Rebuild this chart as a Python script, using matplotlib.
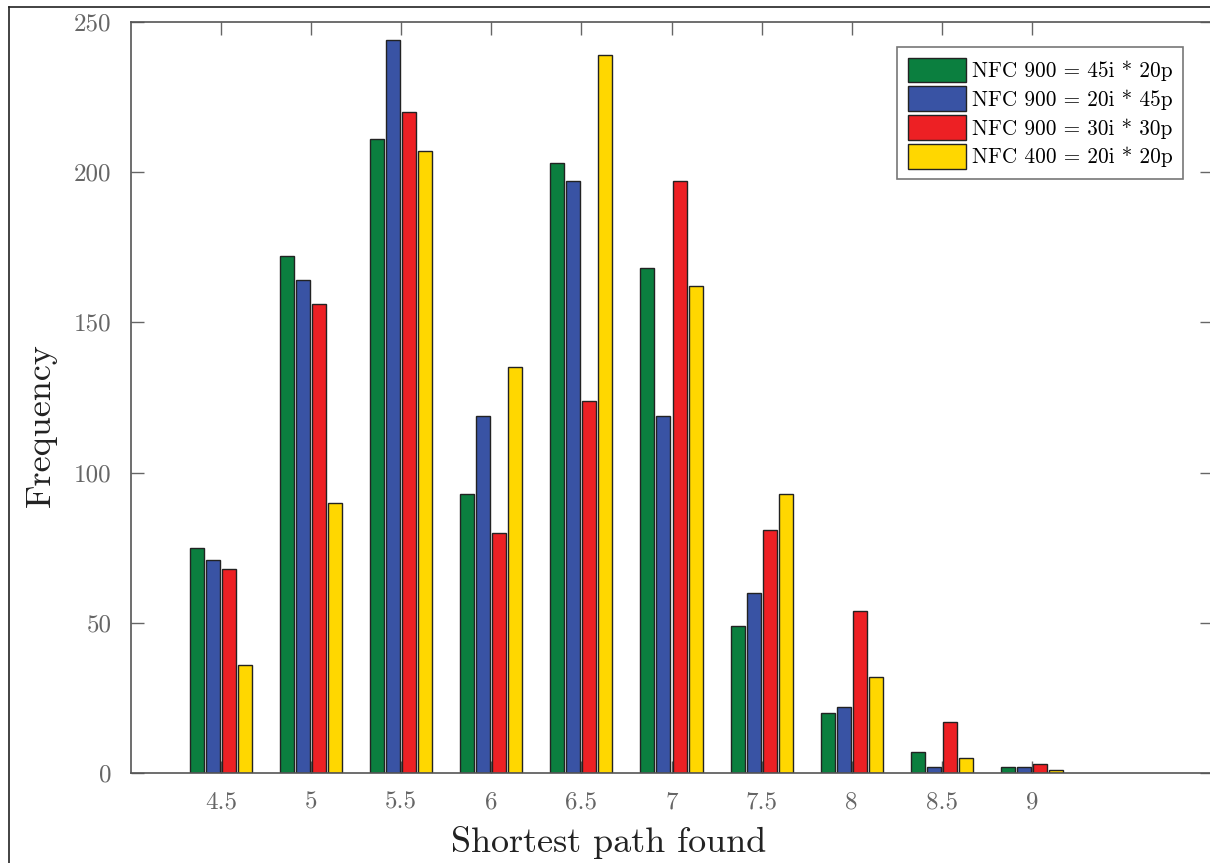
import matplotlib
matplotlib.use("Agg")
import matplotlib.pyplot as plt
import numpy as np
from matplotlib.lines import Line2D

plt.rcParams['font.family'] = ['cmr10', 'DejaVu Serif']
plt.rcParams['mathtext.fontset'] = 'cm'
plt.rcParams['axes.unicode_minus'] = False

categories = ["4.5", "5", "5.5", "6", "6.5", "7", "7.5", "8", "8.5", "9"]
series_names = ["NFC 900 = 45i * 20p", "NFC 900 = 20i * 45p",
                "NFC 900 = 30i * 30p", "NFC 400 = 20i * 20p"]
green_vals = [75, 172, 211, 93, 203, 168, 49, 20, 7, 2]
blue_vals = [71, 164, 244, 119, 197, 119, 60, 22, 2, 2]
red_vals = [68, 156, 220, 80, 124, 197, 81, 54, 17, 3]
yellow_vals = [36, 90, 207, 135, 239, 162, 93, 32, 5, 1]
colors = ["#0B7F3F", "#3953A4", "#ED2024", "#FFD700"]
yticks = [0, 50, 100, 150, 200, 250]

W, H = 1210, 863
fig = plt.figure(figsize=(W / 100, H / 100), dpi=100)
ax = fig.add_axes([131 / W, 1 - 773 / H, (1212 - 131) / W, (773 - 22) / H])

# figure border
fig.add_artist(Line2D([8.5 / W, 8.5 / W], [0, 1 - 7.5 / H], color="#222222", lw=1.2,
                      transform=fig.transFigure))
fig.add_artist(Line2D([8.5 / W, 1], [1 - 7.5 / H, 1 - 7.5 / H], color="#222222", lw=1.2,
                      transform=fig.transFigure))

x = np.arange(1, len(categories) + 1)
all_vals = [green_vals, blue_vals, red_vals, yellow_vals]
step = 16 / 90
bw = 14 / 90
for i, (vals, c, name) in enumerate(zip(all_vals, colors, series_names)):
    ax.bar(x + (i - 1.5) * step, vals, width=bw, color=c, edgecolor="#222222",
           linewidth=1.0, label=name, zorder=2)

ax.set_xlim(0, 12)
ax.set_ylim(0, 250)
ax.set_xticks(x)
ax.set_xticklabels(categories)
ax.set_yticks(yticks)
ax.set_yticklabels([str(v) for v in yticks])
ax.set_axisbelow(True)
ax.tick_params(axis='both', direction='in', length=9, width=1, color="#666666",
               labelcolor="#666666", labelsize=18, top=True, right=True)
ax.tick_params(axis='x', pad=13)
ax.tick_params(axis='y', pad=14)
for s in ax.spines.values():
    s.set_color("#555555")
    s.set_linewidth(1.2)

ax.set_ylabel("Frequency", fontsize=26, color="#222222")
ax.yaxis.set_label_coords(-0.069, 0.463)
ax.set_xlabel("Shortest path found", fontsize=26, color="#222222")
ax.xaxis.set_label_coords(0.442, -0.070)

leg = ax.legend(loc="upper right", bbox_to_anchor=((1183 - 131) / (1212 - 131), (773 - 47) / 751),
                fontsize=15.3, frameon=True, fancybox=False, edgecolor="#555555",
                handlelength=2.75, handleheight=1.4, handletextpad=0.25, borderpad=0.5,
                labelspacing=0.2, borderaxespad=0)
leg.get_frame().set_linewidth(1.2)

fig.savefig("out.png", dpi=100)
